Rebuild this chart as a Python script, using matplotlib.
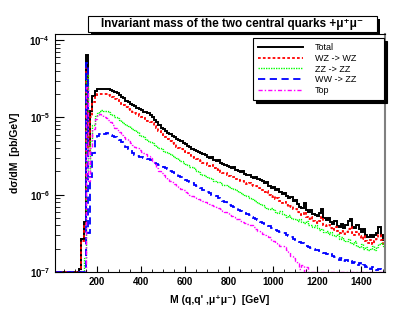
import numpy as np
import matplotlib
matplotlib.use("Agg")
import matplotlib.pyplot as plt
from matplotlib.patches import Rectangle
from matplotlib.ticker import MultipleLocator, LogLocator, NullFormatter

plt.rcParams['font.family'] = ['Liberation Sans', 'DejaVu Sans']
plt.rcParams['font.weight'] = 'bold'
plt.rcParams['mathtext.default'] = 'regular'

# bin edges in GeV (10 GeV bins)
mass_edges = np.arange(10, 1520, 10)

# dsigma/dM, in units of 1e-6 pb/GeV (10 bins per row)
total = [
    0.1, 0.1, 0.1, 0.1, 0.1, 0.1, 0.1, 0.1, 0.1, 0.1,
    0.1, 0.11, 0.27, 0.44, 64, 4.3, 12, 19, 22, 23.0,
    23.3, 23.5, 23.4, 23.3, 23.0, 22.4, 22.2, 21.2, 20.4, 19.5,
    18.5, 17.6, 16.4, 15.7, 14.8, 14.4, 13.9, 13.1, 12.8, 12.4,
    11.9, 11.6, 11.4, 10.7, 10.0, 9.3, 8.7, 8.0, 7.4, 7.0,
    6.7, 6.3, 6.1, 5.8, 5.6, 5.3, 5.1, 5.0, 4.7, 4.5,
    4.3, 4.1, 3.95, 3.8, 3.7, 3.55, 3.5, 3.35, 3.25, 3.1,
    3.0, 3.05, 2.85, 2.75, 2.8, 2.55, 2.5, 2.45, 2.35, 2.3,
    2.2, 2.25, 2.1, 2.05, 1.95, 2.0, 1.85, 1.8, 1.8, 1.72,
    1.65, 1.7, 1.58, 1.55, 1.5, 1.42, 1.45, 1.3, 1.22, 1.25,
    1.15, 1.18, 1.08, 1.02, 1.06, 0.95, 0.90, 0.93, 0.84, 0.86,
    0.76, 0.70, 0.68, 0.78, 0.63, 0.60, 0.64, 0.57, 0.55, 0.53,
    0.58, 0.66, 0.50, 0.47, 0.50, 0.45, 0.42, 0.46, 0.39, 0.38,
    0.42, 0.37, 0.40, 0.46, 0.49, 0.38, 0.37, 0.41, 0.36, 0.33,
    0.36, 0.30, 0.28, 0.30, 0.28, 0.30, 0.32, 0.38, 0.30, 0.26,
]
wz_wz = [
    0.1, 0.1, 0.1, 0.1, 0.1, 0.1, 0.1, 0.1, 0.1, 0.1,
    0.1, 0.1, 0.25, 0.40, 45, 3.5, 10, 16, 19, 19.8,
    20.0, 20.2, 20.0, 19.8, 19.4, 19.0, 18.2, 17.4, 16.8, 15.8,
    15.0, 14.4, 13.6, 13.0, 12.5, 11.8, 11.4, 11.0, 10.4, 10.0,
    9.7, 9.3, 9.0, 8.7, 8.4, 7.8, 7.2, 6.6, 6.1, 5.7,
    5.5, 5.2, 4.9, 4.7, 4.5, 4.2, 4.0, 3.9, 3.7, 3.6,
    3.45, 3.3, 3.1, 2.95, 2.9, 2.8, 2.7, 2.6, 2.55, 2.45,
    2.35, 2.4, 2.2, 2.1, 2.15, 1.98, 1.92, 1.9, 1.8, 1.75,
    1.68, 1.72, 1.6, 1.55, 1.5, 1.52, 1.42, 1.38, 1.4, 1.33,
    1.28, 1.3, 1.22, 1.2, 1.15, 1.1, 1.12, 1.0, 0.93, 0.95,
    0.88, 0.9, 0.82, 0.78, 0.8, 0.73, 0.70, 0.72, 0.65, 0.66,
    0.60, 0.57, 0.54, 0.59, 0.52, 0.49, 0.51, 0.46, 0.45, 0.43,
    0.46, 0.51, 0.41, 0.39, 0.41, 0.37, 0.35, 0.38, 0.34, 0.32,
    0.34, 0.31, 0.33, 0.36, 0.38, 0.32, 0.30, 0.33, 0.29, 0.27,
    0.29, 0.25, 0.24, 0.26, 0.23, 0.25, 0.27, 0.30, 0.26, 0.23,
]
zz_zz = [
    0.1, 0.1, 0.1, 0.1, 0.1, 0.1, 0.1, 0.1, 0.1, 0.1,
    0.1, 0.1, 0.1, 0.15, 35, 2.0, 5.0, 8.0, 10.5, 11.5,
    12.0, 12.3, 12.2, 12.0, 11.7, 11.2, 10.8, 10.2, 9.7, 9.3,
    8.8, 8.4, 8.0, 7.7, 7.4, 7.1, 6.8, 6.5, 6.0, 5.7,
    5.5, 5.2, 5.0, 4.8, 4.6, 4.4, 4.2, 4.0, 3.9, 3.7,
    3.6, 3.5, 3.35, 3.2, 3.1, 3.0, 2.85, 2.7, 2.6, 2.5,
    2.4, 2.3, 2.25, 2.15, 2.05, 1.95, 1.85, 1.8, 1.75, 1.7,
    1.65, 1.6, 1.52, 1.48, 1.44, 1.4, 1.35, 1.32, 1.3, 1.25,
    1.22, 1.2, 1.15, 1.1, 1.05, 1.02, 1.0, 0.96, 0.92, 0.88,
    0.85, 0.82, 0.78, 0.76, 0.73, 0.70, 0.68, 0.65, 0.68, 0.63,
    0.60, 0.58, 0.61, 0.56, 0.54, 0.52, 0.55, 0.50, 0.49, 0.48,
    0.46, 0.48, 0.44, 0.43, 0.46, 0.41, 0.40, 0.38, 0.41, 0.37,
    0.35, 0.36, 0.33, 0.34, 0.31, 0.33, 0.30, 0.29, 0.31, 0.27,
    0.28, 0.26, 0.25, 0.27, 0.24, 0.23, 0.25, 0.22, 0.21, 0.23,
    0.20, 0.21, 0.19, 0.20, 0.22, 0.19, 0.21, 0.23, 0.24, 0.22,
]
ww_zz = [
    0.1, 0.1, 0.1, 0.1, 0.1, 0.1, 0.1, 0.1, 0.1, 0.1,
    0.1, 0.1, 0.1, 0.1, 50, 0.32, 1.7, 3.5, 5.0, 5.8,
    6.1, 6.2, 6.1, 6.2, 6.0, 5.9, 5.8, 5.5, 5.4, 5.1,
    4.8, 4.5, 4.2, 3.9, 3.8, 3.5, 3.3, 3.2, 3.1, 3.1,
    3.0, 3.0, 2.9, 2.85, 2.8, 2.6, 2.5, 2.4, 2.35, 2.3,
    2.2, 2.15, 2.05, 1.95, 1.9, 1.85, 1.75, 1.7, 1.6, 1.55,
    1.5, 1.45, 1.4, 1.35, 1.3, 1.26, 1.22, 1.16, 1.1, 1.08,
    1.04, 1.0, 0.98, 0.95, 0.92, 0.88, 0.84, 0.80, 0.76, 0.74,
    0.72, 0.70, 0.67, 0.64, 0.61, 0.59, 0.58, 0.56, 0.55, 0.52,
    0.50, 0.48, 0.47, 0.45, 0.43, 0.42, 0.41, 0.39, 0.37, 0.36,
    0.35, 0.34, 0.33, 0.32, 0.315, 0.305, 0.295, 0.285, 0.27, 0.26,
    0.25, 0.245, 0.24, 0.23, 0.22, 0.21, 0.205, 0.20, 0.195, 0.19,
    0.185, 0.18, 0.175, 0.17, 0.165, 0.17, 0.16, 0.155, 0.15, 0.145,
    0.15, 0.14, 0.145, 0.135, 0.14, 0.13, 0.135, 0.125, 0.13, 0.12,
    0.125, 0.115, 0.12, 0.11, 0.115, 0.11, 0.105, 0.11, 0.105, 0.10,
]
top = [
    0.1, 0.1, 0.1, 0.1, 0.1, 0.1, 0.1, 0.1, 0.1, 0.1,
    0.1, 0.1, 0.1, 0.1, 25, 1.5, 4.0, 7.0, 9.5, 10.8,
    11.0, 10.7, 10.2, 9.7, 9.2, 8.7, 8.0, 7.4, 6.9, 6.4,
    6.0, 5.6, 5.3, 5.0, 4.7, 4.4, 4.2, 4.0, 3.8, 3.6,
    3.5, 3.4, 3.2, 3.0, 2.7, 2.5, 2.2, 2.0, 1.9, 1.8,
    1.7, 1.6, 1.5, 1.45, 1.38, 1.3, 1.25, 1.2, 1.15, 1.1,
    1.05, 1.0, 0.97, 0.94, 0.90, 0.87, 0.85, 0.83, 0.80, 0.78,
    0.76, 0.74, 0.72, 0.70, 0.68, 0.65, 0.62, 0.60, 0.58, 0.55,
    0.53, 0.51, 0.49, 0.48, 0.46, 0.45, 0.43, 0.42, 0.41, 0.40,
    0.38, 0.36, 0.34, 0.33, 0.31, 0.30, 0.29, 0.28, 0.26, 0.25,
    0.24, 0.23, 0.22, 0.215, 0.21, 0.19, 0.18, 0.16, 0.15, 0.14,
    0.13, 0.11, 0.125, 0.10, 0.115, 0.10, 0.10, 0.10, 0.10, 0.10,
    0.10, 0.10, 0.10, 0.10, 0.10, 0.10, 0.10, 0.10, 0.10, 0.10,
    0.10, 0.10, 0.10, 0.10, 0.10, 0.10, 0.10, 0.10, 0.10, 0.10,
    0.10, 0.10, 0.10, 0.10, 0.10, 0.10, 0.10, 0.10, 0.10, 0.10,
]

series = [
    ("Total", total, dict(color="black", lw=1.4, ls="-")),
    ("WZ -> WZ", wz_wz, dict(color="#ff0000", lw=1.3, ls=(0, (1.5, 1.2)))),
    ("ZZ -> ZZ", zz_zz, dict(color="#00ff00", lw=1.0, ls=(0, (1, 0.8)))),
    ("WW -> ZZ", ww_zz, dict(color="#0000ff", lw=1.3, ls=(0, (4, 2.5)))),
    ("Top", top, dict(color="#ff00ff", lw=1.0, ls=(0, (3, 1.5, 1, 1.5)))),
]

W, H = 399, 311
fig = plt.figure(figsize=(W / 100, H / 100), dpi=100)
ax = fig.add_axes([55 / W, 1 - 272 / H, 330 / W, 238 / H])

for label, vals, style in series:
    ax.stairs(np.array(vals) * 1e-6, mass_edges, baseline=None, label=label, **style)

ax.set_yscale("log")
ax.set_xlim(10, 1510)
ax.set_ylim(1e-7, 1.2e-4)

ax.xaxis.set_major_locator(MultipleLocator(200))
ax.xaxis.set_minor_locator(MultipleLocator(50))
ax.yaxis.set_minor_locator(LogLocator(subs=np.arange(2, 10)))
ax.yaxis.set_minor_formatter(NullFormatter())
ax.tick_params(which="both", direction="in", top=False, right=False, labelsize=7)
ax.tick_params(axis="y", which="major", length=6.5, width=0.8)
ax.tick_params(axis="y", which="minor", length=3.5, width=0.6)
ax.tick_params(axis="x", which="major", length=4.5, width=0.8)
ax.tick_params(axis="x", which="minor", length=2.2, width=0.6)
for t in ax.get_xticklabels() + ax.get_yticklabels():
    t.set_fontweight("bold")

for s in ax.spines.values():
    s.set_linewidth(0.8)
ax.spines["right"].set_color("#808080")
ax.spines["right"].set_linewidth(1.5)

ax.set_xlabel("M (q,q' ,μ⁺μ⁻)  [GeV]", fontsize=7.5, fontweight="bold")
ax.xaxis.set_label_coords(0.5, -0.095)
ax.set_ylabel("dσ/dM  [pb/GeV]", fontsize=7.5, fontweight="bold")
ax.yaxis.set_label_coords(-0.105, 0.5)

# title box with shadow
fig.patches.append(Rectangle((91 / W, 1 - 35 / H), 289 / W, 16 / H,
                             transform=fig.transFigure, facecolor="black", edgecolor="none"))
fig.patches.append(Rectangle((88 / W, 1 - 32 / H), 289 / W, 16 / H,
                             transform=fig.transFigure, facecolor="white", edgecolor="black", lw=0.8))
fig.text(232 / W, 1 - 24 / H, "Invariant mass of the two central quarks +μ⁺μ⁻",
         ha="center", va="center", fontsize=8.5, fontweight="bold")

leg = ax.legend(loc="upper left", bbox_to_anchor=(253 / W, 1 - 98 / H, 131 / W, 60 / H),
                bbox_transform=fig.transFigure, mode="expand", borderaxespad=0,
                fancybox=False, edgecolor="black", framealpha=1,
                shadow={"color": "black", "alpha": 1},
                prop={"size": 6.5, "weight": "normal"},
                handlelength=5.0, handletextpad=1.3, labelspacing=0.2, borderpad=0.55)
leg.get_frame().set_linewidth(0.8)

fig.savefig("out.png", dpi=100)
